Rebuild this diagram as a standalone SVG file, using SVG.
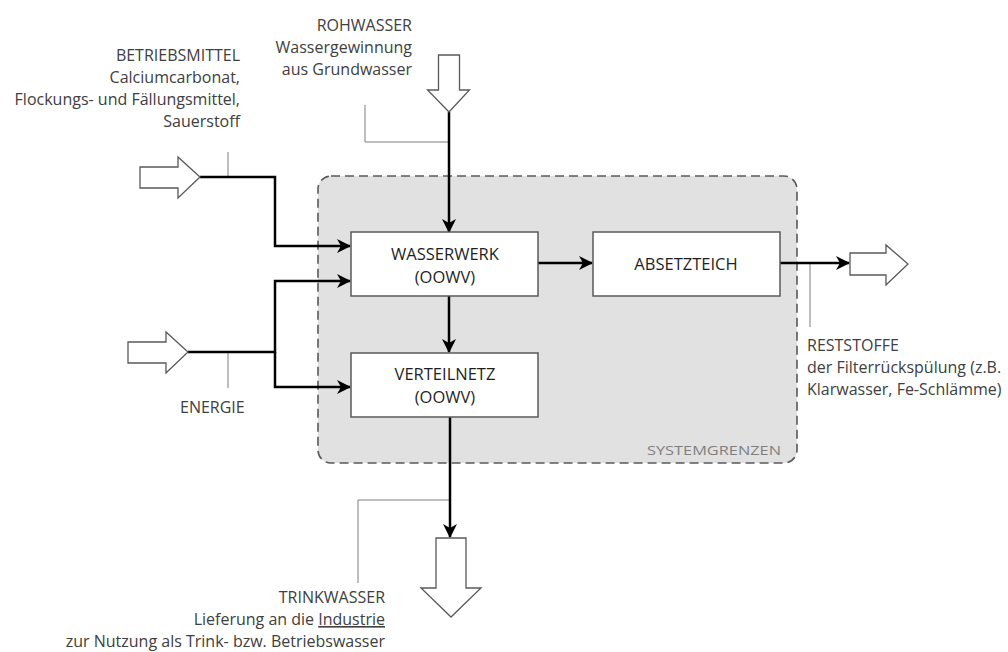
<svg xmlns="http://www.w3.org/2000/svg" width="1008" height="652" viewBox="0 0 1008 652">
<style>
  .lbl{font-family:"Open Sans","Liberation Sans",sans-serif;font-size:16px;fill:#404040}
  .box{fill:#fff;stroke:#595959;stroke-width:1.5}
  .btxt{font-family:"Open Sans","Liberation Sans",sans-serif;font-size:16.5px;fill:#1f1f1f;text-anchor:middle}
  .hollow{fill:#fff;stroke:#595959;stroke-width:1.3;stroke-linejoin:miter}
  .thin{fill:none;stroke:#7f7f7f;stroke-width:1}
  .conn{fill:none;stroke:#000;stroke-width:2.5}
</style>
<defs>
  <marker id="ah" markerUnits="userSpaceOnUse" markerWidth="14" markerHeight="14" refX="13" refY="7" orient="auto" viewBox="0 0 14 14">
    <path d="M0,0 L14,7 L0,14 L4,7 z" fill="#000"/>
  </marker>
</defs>
<rect width="1008" height="652" fill="#fff"/>

<g id="systemgrenzen">
  <rect x="318" y="176" width="479" height="287" rx="13" ry="13" fill="#e1e1e1" stroke="#595959" stroke-width="1.6" stroke-dasharray="9,5"/>
  <text x="781" y="455" font-family="Open Sans, Liberation Sans, sans-serif" font-size="13" fill="#7f7f7f" text-anchor="end" textLength="134" lengthAdjust="spacingAndGlyphs">SYSTEMGRENZEN</text>
</g>

<g id="connectors">
  <polyline class="thin" points="365,105 365,142 449,142"/>
  <line class="thin" x1="228" y1="152" x2="228" y2="177"/>
  <line class="thin" x1="228" y1="352" x2="228" y2="388"/>
  <line class="thin" x1="810" y1="263" x2="810" y2="327"/>
  <polyline class="thin" points="450,500 358,500 358,583"/>
  <line class="conn" x1="449" y1="112" x2="449" y2="232" marker-end="url(#ah)"/>
  <polyline class="conn" points="200,177 275,177 275,246 350,246" marker-end="url(#ah)"/>
  <polyline class="conn" points="188,352 275,352 275,281 350,281" marker-end="url(#ah)"/>
  <polyline class="conn" points="275,352 275,387 350,387" marker-end="url(#ah)"/>
  <line class="conn" x1="449" y1="296" x2="449" y2="352" marker-end="url(#ah)"/>
  <line class="conn" x1="538" y1="263" x2="592" y2="263" marker-end="url(#ah)"/>
  <line class="conn" x1="780" y1="263" x2="849" y2="263" marker-end="url(#ah)"/>
  <line class="conn" x1="450" y1="417" x2="450" y2="537" marker-end="url(#ah)"/>
</g>

<g id="wasserwerk">
  <rect class="box" x="351" y="232" width="187" height="64"/>
  <text class="btxt" x="445" y="260">WASSERWERK</text>
  <text class="btxt" x="445" y="283">(OOWV)</text>
</g>

<g id="absetzteich">
  <rect class="box" x="593" y="232" width="187" height="64"/>
  <text class="btxt" x="686" y="270">ABSETZTEICH</text>
</g>

<g id="verteilnetz">
  <rect class="box" x="351" y="353" width="187" height="64"/>
  <text class="btxt" x="445" y="380">VERTEILNETZ</text>
  <text class="btxt" x="445" y="403">(OOWV)</text>
</g>

<g id="rohwasser">
  <polygon class="hollow" points="438.5,55 459.5,55 459.5,90 469.5,90 449,112 427.5,90 438.5,90"/>
  <text class="lbl" text-anchor="end" x="412" y="31">ROHWASSER</text>
  <text class="lbl" text-anchor="end" x="412" y="53">Wassergewinnung</text>
  <text class="lbl" text-anchor="end" x="412" y="75">aus Grundwasser</text>
</g>

<g id="betriebsmittel">
  <polygon class="hollow" points="140,167 178,167 178,157 200,177 178,198 178,188 140,188"/>
  <text class="lbl" text-anchor="end" x="240" y="61">BETRIEBSMITTEL</text>
  <text class="lbl" text-anchor="end" x="240" y="83">Calciumcarbonat,</text>
  <text class="lbl" text-anchor="end" x="240" y="105">Flockungs- und Fällungsmittel,</text>
  <text class="lbl" text-anchor="end" x="240" y="127">Sauerstoff</text>
</g>

<g id="energie">
  <polygon class="hollow" points="128,342 166,342 166,332 188,352 166,373 166,363 128,363"/>
  <text class="lbl" x="180" y="413">ENERGIE</text>
</g>

<g id="reststoffe">
  <polygon class="hollow" points="850,253 886,253 886,245 908,264 886,285 886,275 850,275"/>
  <text class="lbl" x="807" y="351">RESTSTOFFE</text>
  <text class="lbl" x="807" y="373">der Filterrückspülung (z.B.</text>
  <text class="lbl" x="807" y="395">Klarwasser, Fe-Schlämme)</text>
</g>

<g id="trinkwasser">
  <polygon class="hollow" points="436,538 466,538 466,588 481,588 451,617 421,588 436,588"/>
  <text class="lbl" text-anchor="end" x="385" y="603">TRINKWASSER</text>
  <text class="lbl" text-anchor="end" x="385" y="625">Lieferung an die <tspan text-decoration="underline">Industrie</tspan></text>
  <text class="lbl" text-anchor="end" x="385" y="647">zur Nutzung als Trink- bzw. Betriebswasser</text>
</g>
</svg>
